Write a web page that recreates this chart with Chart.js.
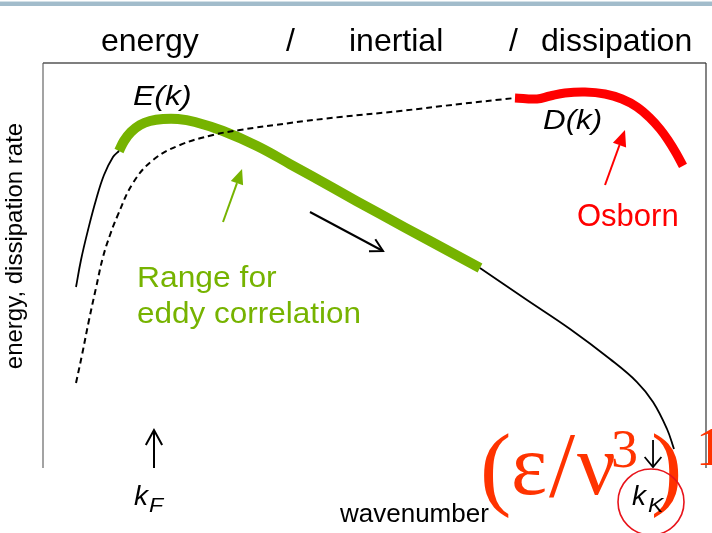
<!DOCTYPE html>
<html>
<head>
<meta charset="utf-8">
<script src="https://cdn.jsdelivr.net/npm/chart.js@4/dist/chart.umd.min.js"></script>
<style>
  html, body { margin: 0; padding: 0; background: #fff; overflow: hidden; }
  canvas { display: block; }
</style>
</head>
<body>
<canvas id="spectrum" width="712" height="533"></canvas>
<script>
// Schematic turbulence spectra: energy E(k) and dissipation rate D(k) vs wavenumber k.
// Arbitrary units: k runs 0..100 across the frame, values 0..100 from bottom to top.

// E(k), production range (thin black)
const energyLow = [[4.98,44.69],[5.73,51.36],[6.79,58.77],[7.99,66.17],[9.20,72.35],[10.56,76.79],[11.46,78.27]];
// E(k), range usable for eddy correlation (thick green)
const energyEddy = [[11.46,78.27],[12.22,80.74],[13.27,82.96],[14.63,84.69],[16.14,85.68],[18.10,86.17],[20.36,86.17],
  [22.93,85.43],[27.15,83.21],[32.28,79.51],[37.25,75.06],[43.74,69.14],[50.83,62.72],[58.37,56.05],[65.91,49.38]];
// E(k), dissipation range tail (thin black)
const energyHigh = [[65.91,49.38],[73.00,41.48],[79.49,34.32],[85.52,26.91],[89.59,21.23],[92.01,16.30],[94.12,9.63],[95.17,4.69]];
// D(k), dashed black
const dissipation = [[4.98,20.99],[5.88,27.90],[6.94,36.54],[7.99,44.44],[9.05,52.10],[10.11,57.53],[11.16,61.98],
  [13.57,70.37],[16.59,76.05],[20.66,79.75],[25.64,82.22],[29.71,83.46],[37.25,85.19],[44.80,86.67],[53.85,88.15],
  [62.90,89.88],[71.19,91.36]];
// D(k), range resolved by the Osborn method (thick red)
const dissipationOsborn = [[71.19,91.36],[74.51,91.11],[76.47,91.85],[78.73,92.59],[81.75,92.84],[84.77,92.35],
  [87.33,91.11],[89.59,89.14],[91.55,86.42],[93.06,83.70],[94.27,80.99],[95.48,77.78],[96.53,74.57]];

// Arrows in the same k / value units: [from, to]
const arrowEddy    = [[27.15,60.74],[30.02,73.83]];
const arrowCascade = [[40.27,63.21],[51.28,53.58]];
const arrowOsborn  = [[84.77,69.88],[87.78,83.46]];
const arrowKF      = [[16.74,0.0],[16.74,9.38]];
const arrowKK      = [[92.01,6.91],[92.01,0.25]];

const rangeLabels = ['energy', '/', 'inertial', '/', 'dissipation'];

const SANS = '"Liberation Sans", Arial, Helvetica, sans-serif';
const SERIF = '"Liberation Serif", "Times New Roman", serif';
const GREEN = '#76b300';
const RED = '#ff0000';
const FORMULA = '#ff3300';

const toXY = pts => pts.map(p => ({ x: p[0], y: p[1] }));

function arrow(ctx, chart, pts, color, head) {
  const xs = chart.scales.x, ys = chart.scales.y;
  const x0 = xs.getPixelForValue(pts[0][0]), y0 = ys.getPixelForValue(pts[0][1]);
  const x1 = xs.getPixelForValue(pts[1][0]), y1 = ys.getPixelForValue(pts[1][1]);
  const a = Math.atan2(y1 - y0, x1 - x0);
  ctx.save();
  ctx.strokeStyle = color; ctx.fillStyle = color;
  ctx.lineWidth = head.width; ctx.lineCap = 'butt'; ctx.lineJoin = 'miter';
  if (head.filled) {
    const bx = x1 - head.len * Math.cos(a), by = y1 - head.len * Math.sin(a);
    ctx.beginPath(); ctx.moveTo(x0, y0); ctx.lineTo(bx, by); ctx.stroke();
    ctx.beginPath();
    ctx.moveTo(x1, y1);
    ctx.lineTo(bx + head.half * Math.sin(a), by - head.half * Math.cos(a));
    ctx.lineTo(bx - head.half * Math.sin(a), by + head.half * Math.cos(a));
    ctx.closePath(); ctx.fill();
  } else {
    ctx.beginPath(); ctx.moveTo(x0, y0); ctx.lineTo(x1, y1); ctx.stroke();
    ctx.beginPath();
    ctx.moveTo(x1 - head.len * Math.cos(a - head.ang), y1 - head.len * Math.sin(a - head.ang));
    ctx.lineTo(x1, y1);
    ctx.lineTo(x1 - head.len * Math.cos(a + head.ang), y1 - head.len * Math.sin(a + head.ang));
    ctx.stroke();
  }
  ctx.restore();
}

// text with optional horizontal stretch
function text(ctx, s, x, y, font, color, sx) {
  ctx.save();
  ctx.font = font; ctx.fillStyle = color;
  ctx.translate(x, y); ctx.scale(sx || 1, 1);
  ctx.fillText(s, 0, 0);
  ctx.restore();
}

const sketch = {
  id: 'sketch',
  beforeDraw(chart) {
    const ctx = chart.ctx, a = chart.chartArea;
    ctx.save();
    // slide rule along the top edge
    ctx.fillStyle = '#d3e0e7'; ctx.fillRect(0, 1, chart.width, 1);
    ctx.fillStyle = '#a2bccb'; ctx.fillRect(0, 2, chart.width, 4);
    // open frame: left, top, right
    ctx.lineWidth = 1.6; ctx.strokeStyle = '#8c8c8c';
    ctx.beginPath(); ctx.moveTo(a.left, a.bottom); ctx.lineTo(a.left, a.top); ctx.stroke();
    ctx.lineWidth = 1.3; ctx.strokeStyle = '#555';
    ctx.beginPath(); ctx.moveTo(a.left, a.top); ctx.lineTo(a.right, a.top); ctx.stroke();
    ctx.lineWidth = 1.2; ctx.strokeStyle = '#333';
    ctx.beginPath(); ctx.moveTo(a.right, a.top); ctx.lineTo(a.right, a.bottom); ctx.stroke();
    ctx.restore();
  },
  afterDatasetsDraw(chart) {
    const ctx = chart.ctx;
    ctx.save();
    ctx.textBaseline = 'alphabetic'; ctx.textAlign = 'left';

    // range headings above the frame
    const headX = [101, 286, 349, 509, 541];
    rangeLabels.forEach((s, i) => text(ctx, s, headX[i], 51, '32px ' + SANS, '#000'));

    // axis titles
    text(ctx, 'wavenumber', 340, 522, '26px ' + SANS, '#000');
    ctx.save();
    ctx.translate(22, 246); ctx.rotate(-Math.PI / 2); ctx.textAlign = 'center';
    text(ctx, 'energy, dissipation rate', 0, 0, '24px ' + SANS, '#000');
    ctx.restore();

    // curve labels
    text(ctx, 'E(k)', 133, 105, 'italic 28px ' + SANS, '#000', 1.14);
    text(ctx, 'D(k)', 543, 129, 'italic 28px ' + SANS, '#000', 1.12);
    text(ctx, 'Osborn', 577, 226, '31px ' + SANS, RED);
    text(ctx, 'Range for', 137, 287, '30px ' + SANS, GREEN, 1.06);
    text(ctx, 'eddy correlation', 137, 323, '30px ' + SANS, GREEN, 1.05);

    // Kolmogorov scale (ε/ν³)^1/4
    text(ctx, '(', 480, 498, '94px ' + SERIF, FORMULA);
    text(ctx, 'ε', 511, 494, '86px ' + SERIF, FORMULA);
    text(ctx, '/', 549, 496, '94px ' + SERIF, FORMULA);
    text(ctx, 'ν', 577, 494, '86px ' + SERIF, FORMULA);
    text(ctx, '3', 611, 467, '54px ' + SERIF, FORMULA);
    text(ctx, ')', 651, 498, '94px ' + SERIF, FORMULA);
    text(ctx, '1', 696, 465, '54px ' + SERIF, FORMULA);

    // arrows
    arrow(ctx, chart, arrowEddy, GREEN, { filled: true, width: 2, len: 15, half: 6.5 });
    arrow(ctx, chart, arrowOsborn, RED, { filled: true, width: 2, len: 16, half: 7 });
    arrow(ctx, chart, arrowCascade, '#000', { filled: false, width: 2, len: 14, ang: 0.5 });
    arrow(ctx, chart, arrowKF, '#000', { filled: false, width: 2, len: 17, ang: 0.5 });
    arrow(ctx, chart, arrowKK, '#000', { filled: false, width: 1.8, len: 13, ang: 0.7 });

    // forcing and Kolmogorov wavenumbers
    text(ctx, 'k', 134, 505, 'italic 28px ' + SANS, '#000');
    text(ctx, 'F', 149, 512, 'italic 21px ' + SANS, '#000', 1.1);
    text(ctx, 'k', 632, 505, 'italic 28px ' + SANS, '#000');
    text(ctx, 'K', 648, 512, 'italic 21px ' + SANS, '#000', 1.1);

    ctx.strokeStyle = '#e8141b'; ctx.lineWidth = 1.6;
    ctx.beginPath(); ctx.arc(651, 502, 33, 0, Math.PI * 2); ctx.stroke();
    ctx.restore();
  }
};

const thin = { borderColor: '#000', borderWidth: 1.8 };
new Chart(document.getElementById('spectrum'), {
  type: 'scatter',
  data: {
    datasets: [
      { label: 'D(k)', data: toXY(dissipation), borderColor: '#000', borderWidth: 2, borderDash: [6, 4] },
      { label: 'E(k) production', data: toXY(energyLow), ...thin },
      { label: 'E(k) tail', data: toXY(energyHigh), ...thin },
      { label: 'E(k) eddy correlation', data: toXY(energyEddy), borderColor: GREEN, borderWidth: 10 },
      { label: 'D(k) Osborn', data: toXY(dissipationOsborn), borderColor: RED, borderWidth: 9 }
    ].map(d => Object.assign({ showLine: true, pointRadius: 0, pointHoverRadius: 0,
      tension: 0.4, borderCapStyle: 'butt', borderJoinStyle: 'round', clip: false }, d))
  },
  options: {
    responsive: false,
    animation: false,
    devicePixelRatio: 1,
    layout: { padding: { left: 43, top: 63, right: 6, bottom: 65 } },
    scales: {
      x: { type: 'linear', min: 0, max: 100, display: false },
      y: { type: 'linear', min: 0, max: 100, display: false }
    },
    plugins: { legend: { display: false }, tooltip: { enabled: false }, title: { display: false } },
    events: []
  },
  plugins: [sketch]
});
</script>
</body>
</html>
